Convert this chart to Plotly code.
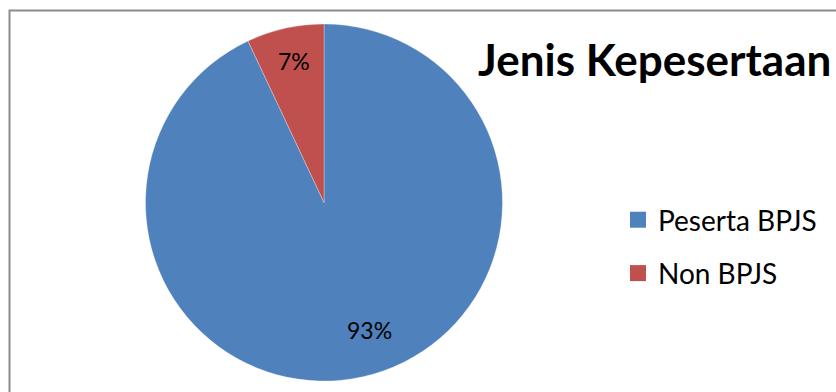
import plotly.graph_objects as go

categories = ["Peserta BPJS", "Non BPJS"]
values = [93, 7]
colors = ["#4F81BD", "#C0504D"]
title_text = "Jenis Kepesertaan"

W, H = 836, 392
total = sum(values)
pct_text = [f"{round(v / total * 100)}%" for v in values]

fig = go.Figure()
fig.add_trace(go.Pie(
    labels=categories,
    values=values,
    marker=dict(colors=colors, line=dict(color="white", width=0.3)),
    sort=False,
    direction="clockwise",
    rotation=0,
    textposition="none",
    showlegend=False,
    domain=dict(x=[145.5 / W, 502.5 / W], y=[(H - 381) / H, (H - 24) / H]),
))

# legend entries
for i, (c, col) in enumerate(zip(categories, colors)):
    fig.add_trace(go.Scatter(
        x=[None], y=[None], mode="markers", name=c,
        marker=dict(symbol="square", size=18, color=col),
        legendgroup=c,
    ))

# percentage labels
label_pos = [(369, 330), (294, 61)]
annotations = []
for t, (px, py) in zip(pct_text, label_pos):
    annotations.append(dict(
        x=px / W, y=1 - py / H, xref="paper", yref="paper",
        text=t, showarrow=False, xanchor="center", yanchor="middle",
        font=dict(family="Lato", size=23, color="black"),
    ))

fig.update_layout(
    width=W, height=H,
    margin=dict(l=0, r=0, t=0, b=0),
    paper_bgcolor="white", plot_bgcolor="white",
    xaxis=dict(visible=False), yaxis=dict(visible=False),
    title=dict(text=title_text, x=478 / W, xanchor="left", y=1 - 61 / H, yanchor="middle",
               font=dict(family="Lato", size=44, color="black", weight="bold")),
    legend=dict(x=618 / W, y=1 - 195 / H, xanchor="left", yanchor="top",
                font=dict(family="Lato", size=28, color="black"),
                tracegroupgap=14, bgcolor="rgba(0,0,0,0)", itemwidth=30),
    annotations=annotations,
    shapes=[dict(type="rect", xref="paper", yref="paper",
                 x0=9.5 / W, x1=1.02, y0=-0.02, y1=1 - 10.5 / H,
                 line=dict(color="#8C8C8C", width=2))],
)

fig.write_html("out.html")
